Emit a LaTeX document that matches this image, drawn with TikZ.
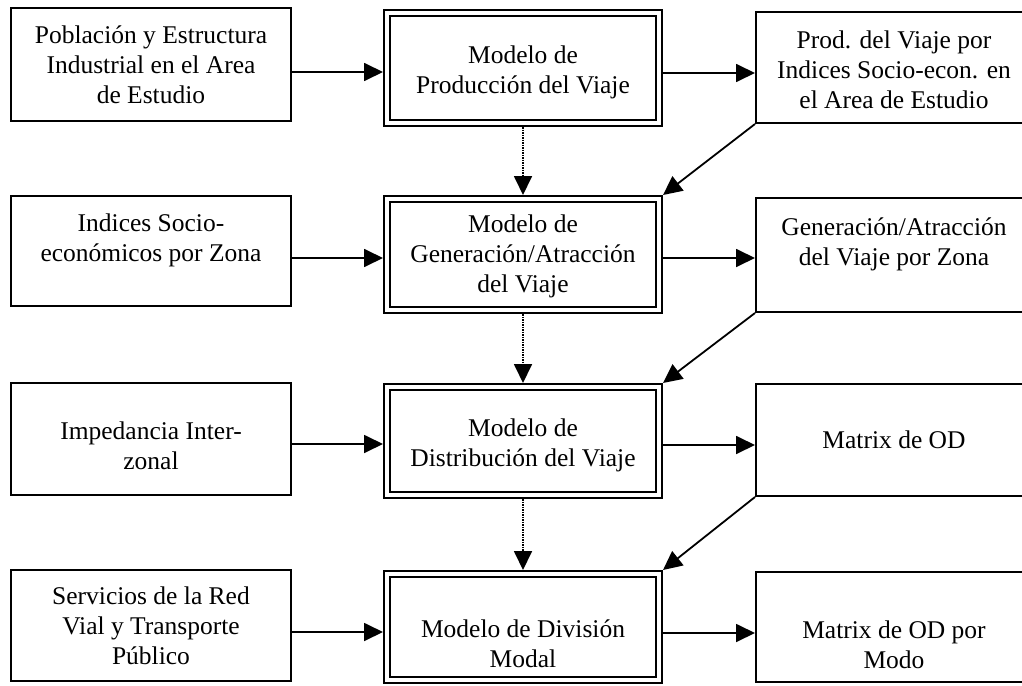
\documentclass[tikz,border=0pt]{standalone}
\usepackage{fontspec}
\setmainfont{Liberation Serif}
\usetikzlibrary{arrows.meta}
\begin{document}
\begin{tikzpicture}[x=1pt,y=-1pt,
  box/.style={draw, line width=2.4pt, inner sep=0pt, outer sep=1.2pt},
  lbox/.style={box, minimum width=279.6pt},
  rbox/.style={box, minimum width=275.6pt},
  dbox/.style={draw, line width=2.2pt, double=white, double distance=3.4pt, inner sep=0pt, outer sep=3.9pt, minimum width=272.2pt},
  txt/.style={align=center, inner sep=0pt, font=\fontsize{25.5}{30}\selectfont},
  arr/.style={-{Triangle[length=19pt,width=18pt]}, line width=1.8pt},
  dotarr/.style={arr, dash pattern=on 1.5pt off 1pt}]
\useasboundingbox (0,0) rectangle (1022,685);
\clip (0,0) rectangle (1022,685);

% left column
\node[lbox, minimum height=112.6pt] (L1) at (151,64.5) {};
\node[lbox, minimum height=109.6pt] (L2) at (151,251) {};
\node[lbox, minimum height=111.6pt] (L3) at (151,439) {};
\node[lbox, minimum height=110.6pt] (L4) at (151,625.5) {};
% middle column
\node[dbox, minimum height=110.2pt] (M1) at (523,68) {};
\node[dbox, minimum height=111.2pt] (M2) at (523,254.5) {};
\node[dbox, minimum height=108.2pt] (M3) at (523,441) {};
\node[dbox, minimum height=106.2pt] (M4) at (523,627) {};
% right column
\node[rbox, minimum height=110.6pt] (R1) at (894,67.5) {};
\node[rbox, minimum height=113.6pt] (R2) at (894,255) {};
\node[rbox, minimum height=111.6pt] (R3) at (894,440) {};
\node[rbox, minimum height=109.6pt] (R4) at (894,627) {};

% texts
\node[txt] (L1t) at (L1.center) {Población y Estructura\\Industrial en el Area\\de Estudio};
\node[txt] (L2t) at ([yshift=11pt]L2.center) {Indices Socio-\\económicos por Zona};
\node[txt] (L3t) at ([yshift=-7pt]L3.center) {Impedancia Inter-\\zonal};
\node[txt] (L4t) at (L4.center) {Servicios de la Red\\Vial y Transporte\\Público};
\node[txt] (M1t) at ([yshift=-4pt]M1.center) {Modelo de\\Producción del Viaje};
\node[txt] (M2t) at ([yshift=-2pt]M2.center) {Modelo de\\Generación/Atracción\\del Viaje};
\node[txt] (M3t) at ([yshift=-4pt]M3.center) {Modelo de\\Distribución del Viaje};
\node[txt] (M4t) at ([yshift=-17pt]M4.center) {Modelo de División\\Modal};
\node[txt] (R1t) at ([yshift=-2pt]R1.center) {Prod. del Viaje por\\Indices Socio-econ. en\\el Area de Estudio};
\node[txt] (R2t) at ([yshift=10.5pt]R2.center) {Generación/Atracción\\del Viaje por Zona};
\node[txt] (R3t) at (R3.center) {Matrix de OD};
\node[txt] (R4t) at ([yshift=-18pt]R4.center) {Matrix de OD por\\Modo};

% left -> middle
\draw[arr] ([yshift=-7.5pt]L1.east) -- ([yshift=-7.5pt]L1.east -| M1.west);
\draw[arr] ([yshift=-7pt]L2.east) -- ([yshift=-7pt]L2.east -| M2.west);
\draw[arr] ([yshift=-5pt]L3.east) -- ([yshift=-5pt]L3.east -| M3.west);
\draw[arr] ([yshift=-6.5pt]L4.east) -- ([yshift=-6.5pt]L4.east -| M4.west);
% middle -> right
\draw[arr] ([yshift=-5pt]M1.east) -- ([yshift=-5pt]M1.east -| R1.west);
\draw[arr] ([yshift=-3.5pt]M2.east) -- ([yshift=-3.5pt]M2.east -| R2.west);
\draw[arr] ([yshift=-4pt]M3.east) -- ([yshift=-4pt]M3.east -| R3.west);
\draw[arr] ([yshift=-6pt]M4.east) -- ([yshift=-6pt]M4.east -| R4.west);
% right -> next middle
\draw[arr] (R1.south west) -- (M2.north east);
\draw[arr] (R2.south west) -- (M3.north east);
\draw[arr] (R3.south west) -- (M4.north east);
% middle -> next middle (dotted)
\draw[dotarr] (M1.south) -- (M2.north);
\draw[dotarr] (M2.south) -- (M3.north);
\draw[dotarr] (M3.south) -- (M4.north);
\end{tikzpicture}
\end{document}
